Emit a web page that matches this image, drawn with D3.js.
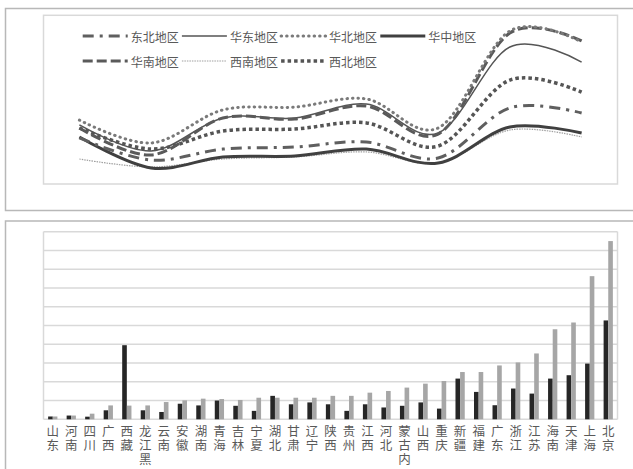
<!DOCTYPE html>
<html>
<head>
<meta charset="utf-8">
<script src="https://cdn.jsdelivr.net/npm/d3@7"></script>
<style>
  body { margin: 0; background: #fff; }
  svg { display: block; }
  text { font-family: "Noto Sans CJK SC", "Noto Sans", sans-serif; fill: #595959; }
  .vlabel { writing-mode: vertical-rl; text-orientation: upright; }
</style>
</head>
<body>
<svg id="chart" width="633" height="469"></svg>
<script>
// ---- Regional trend lines (upper panel) ----
const periods = [1, 2, 3, 4, 5, 6, 7, 8];
const regions = ['东北地区', '华东地区', '华北地区', '华中地区', '华南地区', '西南地区', '西北地区'];
const dongbei  = [27.3, 14.2, 20.7, 21.9, 24.9, 15.4, 45.1, 42.1];
const huadong  = [35.0, 19.6, 39.1, 39.1, 47.4, 30.2, 81.2, 72.3];
const huabei   = [37.9, 24.3, 43.9, 45.6, 50.4, 33.2, 90.7, 84.2];
const huazhong = [27.9,  9.5, 16.0, 16.6, 20.7, 12.4, 33.8, 30.2];
const huanan   = [33.2, 17.2, 39.1, 38.5, 46.2, 29.6, 89.5, 84.8];
const xinan    = [14.8, 10.1, 14.8, 16.0, 19.0, 12.4, 32.0, 27.9];
const xibei    = [33.2, 20.7, 31.4, 32.6, 36.2, 22.5, 61.6, 54.5];

// ---- Provincial comparison bars (lower panel) ----
const provinces = ['山东','河南','四川','广西','西藏','黑龙江','云南','安徽','湖南','青海','吉林','宁夏','湖北','甘肃','辽宁','陕西','贵州','江西','河北','内蒙古','山西','重庆','新疆','福建','广东','浙江','江苏','海南','天津','上海','北京'];
const darkValues = [0.15,0.2,0.14,0.48,3.95,0.48,0.39,0.83,0.74,1.0,0.72,0.45,1.25,0.8,0.9,0.8,0.45,0.8,0.63,0.72,0.9,0.57,2.17,1.46,0.75,1.64,1.37,2.17,2.35,2.97,5.27];
const grayValues = [0.15,0.2,0.3,0.74,0.73,0.74,0.92,1.01,1.1,1.08,1.03,1.15,1.15,1.15,1.15,1.25,1.25,1.42,1.51,1.69,1.9,2.04,2.52,2.52,2.87,3.03,3.51,4.8,5.16,7.63,9.5];
const gridTicks = [0,1,2,3,4,5,6,7,8,9,10];

const svg = d3.select('#chart');

// panel frames
svg.append('rect').attr('x', 5.5).attr('y', 8.5).attr('width', 640).attr('height', 202)
  .attr('fill', 'none').attr('stroke', '#b8b8b8').attr('stroke-width', 1.5);
svg.append('rect').attr('x', 5.5).attr('y', 221).attr('width', 640).attr('height', 260)
  .attr('fill', 'none').attr('stroke', '#b8b8b8').attr('stroke-width', 1.5);

// ================= upper panel =================
const L = 43.5, R = 617.5;
const topY0 = 15.3, topY1 = 184;
svg.append('rect').attr('x', L).attr('y', topY0).attr('width', R - L).attr('height', topY1 - topY0)
  .attr('fill', 'none').attr('stroke', '#d9d9d9').attr('stroke-width', 1.5);

const xTop = d3.scalePoint().domain(periods).range([L, R]).padding(0.5);
const yTop = d3.scaleLinear().domain([0, 100]).range([topY1, topY0]);

const seriesData = {
  '东北地区': dongbei, '华东地区': huadong, '华北地区': huabei, '华中地区': huazhong,
  '华南地区': huanan, '西南地区': xinan, '西北地区': xibei
};
const styles = {
  '东北地区': { color: '#5f5f5f', width: 3,   dash: '11,6,3,6', cap: 'butt' },
  '华东地区': { color: '#555555', width: 1.5, dash: null,       cap: 'butt' },
  '华北地区': { color: '#7a7a7a', width: 3,   dash: '0.5,5',    cap: 'round' },
  '华中地区': { color: '#404040', width: 3,   dash: null,       cap: 'butt' },
  '华南地区': { color: '#5a5a5a', width: 3,   dash: '10,4',     cap: 'butt' },
  '西南地区': { color: '#a0a0a0', width: 1.2, dash: '1.5,1',    cap: 'butt' },
  '西北地区': { color: '#555555', width: 3.5, dash: '3.5,3',    cap: 'butt' }
};

const line = d3.line()
  .x((d, i) => xTop(periods[i]))
  .y(d => yTop(d))
  .curve(d3.curveCatmullRom.alpha(0));

const drawOrder = ['西南地区', '华中地区', '东北地区', '西北地区', '华东地区', '华南地区', '华北地区'];
drawOrder.forEach(name => {
  const s = styles[name];
  svg.append('path')
    .datum(seriesData[name])
    .attr('d', line)
    .attr('fill', 'none')
    .attr('stroke', s.color)
    .attr('stroke-width', s.width)
    .attr('stroke-linecap', s.cap)
    .attr('stroke-dasharray', s.dash);
});

// legend
const legendRows = [regions.slice(0, 4), regions.slice(4)];
const legendY = [36, 61];
legendRows.forEach((row, r) => {
  row.forEach((name, i) => {
    const x0 = 82.7 + i * 99.2;
    const s = styles[name];
    svg.append('line')
      .attr('x1', x0).attr('x2', x0 + 45)
      .attr('y1', legendY[r]).attr('y2', legendY[r])
      .attr('stroke', s.color).attr('stroke-width', s.width)
      .attr('stroke-linecap', s.cap).attr('stroke-dasharray', s.dash);
    svg.append('text')
      .attr('x', x0 + 48).attr('y', legendY[r])
      .attr('dominant-baseline', 'central')
      .attr('font-size', 12)
      .text(name);
  });
});

// ================= lower panel =================
const botY0 = 231.7, botY1 = 419.3;
const xB = d3.scaleBand().domain(provinces).range([L, R]).paddingInner(0.5).paddingOuter(0.25);
const xSub = d3.scaleBand().domain(['dark', 'gray']).range([0, xB.bandwidth()]);
const yB = d3.scaleLinear().domain([0, 10]).range([botY1, botY0]);

svg.append('g').selectAll('line').data(gridTicks).join('line')
  .attr('x1', L).attr('x2', R)
  .attr('y1', d => yB(d)).attr('y2', d => yB(d))
  .attr('stroke', '#d9d9d9').attr('stroke-width', 1.5);
[L, R].forEach(x => svg.append('line')
  .attr('x1', x).attr('x2', x).attr('y1', botY0).attr('y2', botY1)
  .attr('stroke', '#d9d9d9').attr('stroke-width', 1.5));

const bars = svg.append('g');
bars.selectAll('rect.dark').data(provinces).join('rect')
  .attr('class', 'dark')
  .attr('x', (p) => xB(p) + xSub('dark'))
  .attr('width', xSub.bandwidth())
  .attr('y', (p, i) => yB(darkValues[i]))
  .attr('height', (p, i) => yB(0) - yB(darkValues[i]))
  .attr('fill', '#262626');
bars.selectAll('rect.gray').data(provinces).join('rect')
  .attr('class', 'gray')
  .attr('x', (p) => xB(p) + xSub('gray'))
  .attr('width', xSub.bandwidth())
  .attr('y', (p, i) => yB(grayValues[i]))
  .attr('height', (p, i) => yB(0) - yB(grayValues[i]))
  .attr('fill', '#a6a6a6');

// stacked category labels; a third character wraps below the column
const labelTop = 425;
const pitch = 14;
provinces.forEach(p => {
  const cx = xB(p) + xB.bandwidth() / 2;
  const chars = Array.from(p);
  const head = chars.length > 2 ? chars[0] : null;
  const body = chars.length > 2 ? chars.slice(1).join('') : p;
  svg.append('text')
    .attr('class', 'vlabel')
    .attr('x', cx)
    .attr('y', labelTop)
    .attr('font-size', 12.5)
    .attr('letter-spacing', pitch - 12.5)
    .text(body);
  if (head) {
    svg.append('text')
      .attr('class', 'vlabel')
      .attr('x', cx)
      .attr('y', labelTop + pitch * 2)
      .attr('font-size', 12.5)
      .text(head);
  }
});
</script>
</body>
</html>
